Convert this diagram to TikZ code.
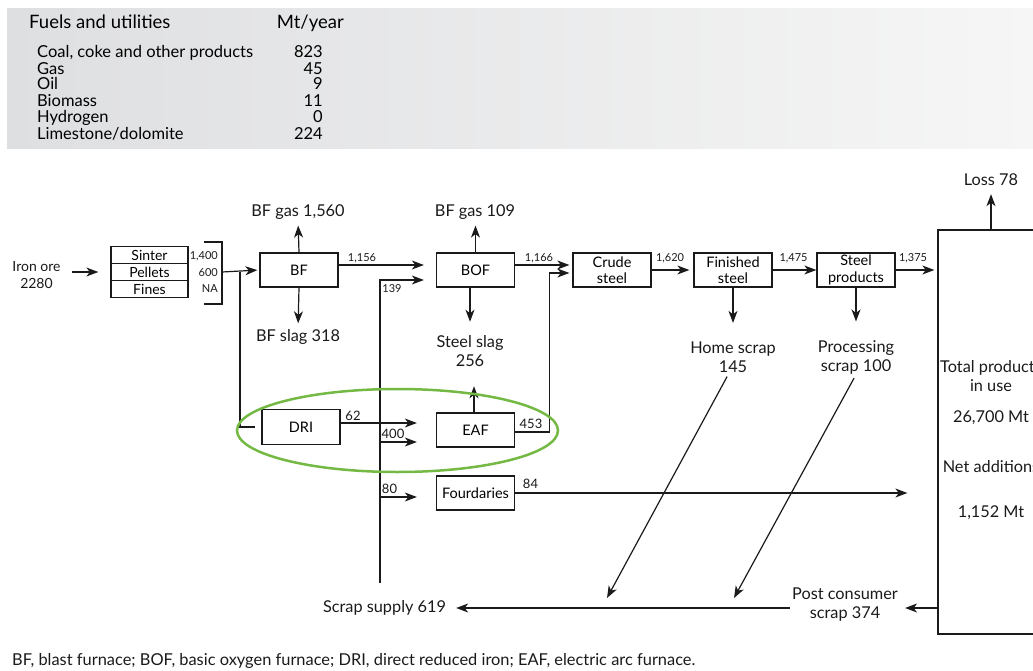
\documentclass[tikz,border=0pt]{standalone}
\usepackage{fontspec}
\setmainfont{Lato}
\usetikzlibrary{arrows.meta, positioning, calc}
\definecolor{bandl}{HTML}{DEDFE1}
\definecolor{bandr}{HTML}{F6F6F6}
\definecolor{ringgreen}{HTML}{74B943}
\definecolor{ink}{HTML}{1A1A1A}

\begin{document}
\begin{tikzpicture}[x=1pt, y=-1pt,
  >={Stealth[length=12pt, width=9pt, inset=3.5pt]},
  flow/.style={->, line width=1.2pt, draw=ink},
  wire/.style={line width=1.2pt, draw=ink},
  procbox/.style={draw=ink, line width=1.3pt, minimum width=78pt, minimum height=34pt,
    inner sep=1pt, align=center, font=\fontsize{14.5}{16.5}\selectfont},
  feedbox/.style={draw=ink, line width=1.3pt, minimum width=77pt, minimum height=17pt,
    inner sep=0pt, font=\fontsize{14}{15}\selectfont},
  lbl/.style={inner sep=0pt, align=center, text=ink, font=\fontsize{16.3}{19}\selectfont},
  qty/.style={inner sep=0pt, text=ink, font=\fontsize{11}{12}\selectfont},
  mqty/.style={inner sep=0pt, text=ink, font=\fontsize{13}{15}\selectfont},
]

% Frame
\useasboundingbox (0,0) rectangle (1033,671);
\clip (0,0) rectangle (1033,671);

% Fuels and utilities table
\shade[left color=bandl, right color=bandr] (7,9) rectangle (1033,149);
\node[anchor=base west, inner sep=0pt, font=\fontsize{18.5}{20}\selectfont] (fuelhd) at (29,28.5) {Fuels and utilities};
\node[anchor=base east, inner sep=0pt, font=\fontsize{18.5}{20}\selectfont] (unithd) at (344,28.5) {Mt/year};
\foreach \fname/\fval/\fy [count=\i] in {{Coal, coke and other products}/823/57.5, Gas/45/74.5,
    Oil/9/89.5, Biomass/11/106.5, Hydrogen/0/123, Limestone\slash dolomite/224/140} {
  \node[anchor=base west, inner sep=0pt, font=\fontsize{16.5}{17}\selectfont] (fuel\i) at (37,\fy) {\fname};
  \node[anchor=base east, inner sep=0pt, font=\fontsize{16.5}{17}\selectfont] (fval\i) at (323,\fy) {\fval};
}

% Raw materials
\node[lbl, font=\fontsize{14}{17}\selectfont] (ore) at (36.5,275) {Iron ore\\2280};
\node[feedbox] (sinter) at (149.5,255) {Sinter};
\node[feedbox] (pellets) at (149.5,272) {Pellets};
\node[feedbox] (fines) at (149.5,289) {Fines};
\node[qty, anchor=east] (qsinter) at (218,256) {1,400};
\node[qty, anchor=east] (qpellets) at (218,272.5) {600};
\node[qty, anchor=east] (qfines) at (218,289) {NA};
\draw[wire] (204,242) -| (222,304) -- (204,304);
\coordinate (brk) at (222,272);
\coordinate (split) at (240,272);

% Process units
\node[procbox] (bf) at (299,270) {BF};
\node[procbox] (bof) at (475.5,270) {BOF};
\node[procbox] (crude) at (612,270) {Crude\\steel};
\node[procbox] (fin) at (733,270) {Finished\\steel};
\node[procbox] (prod) at (856,270) {Steel\\products};
\node[procbox, minimum height=35pt] (dri) at (301,427) {DRI};
\node[procbox] (eaf) at (475.5,430) {EAF};
\node[procbox] (found) at (475.5,493) {Fourdaries};

% Stock in use
\node[draw=ink, line width=1.3pt, minimum width=110pt, minimum height=404pt] (stock) at (993,432) {};
\node[lbl] (inuse) at (991,376) {Total products\\in use};
\node[lbl] (stockmt) at (991,418) {26,700 Mt};
\node[lbl] (netadd) at (991,467) {Net additions};
\node[lbl] (addmt) at (991,513) {1,152 Mt};

% Outputs
\node[lbl] (bfgas) at (298,212) {BF gas 1,560};
\node[lbl] (bfslag) at (298,337) {BF slag 318};
\node[lbl] (bofgas) at (475,212) {BF gas 109};
\node[lbl] (steelslag) at (470,351.5) {Steel slag\\256};
\node[lbl] (loss) at (991,180) {Loss 78};
\node[lbl] (homescr) at (733,357.5) {Home scrap\\145};
\node[lbl] (procscr) at (856,357.5) {Processing\\scrap 100};
\node[lbl] (post) at (845,605) {Post consumer\\scrap 374};
\node[lbl] (scrap) at (384.5,608) {Scrap supply 619};
\coordinate (scrtop) at (380,583);
\coordinate (homeend) at (607,598);
\coordinate (procend) at (734,598);

% Flow quantities
\node[qty] (qbfbof) at (362,258) {1,156};
\node[qty] (qscrbof) at (392,289) {139};
\node[qty] (qbofcrude) at (539,258) {1,166};
\node[qty] (qcrudefin) at (670,258) {1,620};
\node[qty] (qfinprod) at (793.5,258) {1,475};
\node[qty] (qprodstock) at (913,258) {1,375};
\node[mqty] (qdri) at (353,415.5) {62};
\node[mqty] (qscreaf) at (393,433.5) {400};
\node[mqty] (qeaf) at (531,424) {453};
\node[mqty] (qscrfound) at (389.5,488.5) {80};
\node[mqty] (qfound) at (530.5,483.5) {84};

% Main line
\draw[flow, shorten <=11pt, shorten >=12pt] (ore.east |- pellets) -- (pellets.west);
\draw[flow, shorten >=2pt] (brk) -- (bf.west);
\draw[flow, shorten >=12pt] ([yshift=5pt]bf.east) -- ([yshift=5pt]bof.west);
\draw[flow, shorten >=3pt] ([yshift=5pt]bof.east) -- ([yshift=5pt]crude.west);
\draw[flow, shorten >=4pt] (crude) -- (fin);
\draw[flow] (fin) -- (prod);
\draw[flow, shorten >=3pt] (prod.east) -- (prod.east -| stock.west);

% Side streams
\draw[flow, shorten >=6pt] (bf.north) -- (bfgas.south);
\draw[flow, shorten >=6pt] (bf.south) -- (bfslag.north);
\draw[flow, shorten >=6pt] (bof.north) -- (bof.north |- bofgas.south);
\draw[flow, shorten >=14pt] ([xshift=-5.5pt]bof.south) -- ([xshift=-5.5pt]bof.south |- steelslag.north);
\draw[flow, shorten >=19pt] ([xshift=-1.5pt]eaf.north) -- ([xshift=-1.5pt]eaf.north |- steelslag.south);
\draw[flow, shorten >=19pt] (fin.south) -- (homescr.north);
\draw[flow, shorten >=19pt] (prod.south) -- (procscr.north);
\draw[flow, shorten >=8pt] (loss.south |- stock.north) -- (loss.south);

% DRI / EAF route
\draw[wire] (split) |- ([xshift=-6pt]dri.west);
\coordinate (eafin) at ([yshift=-12pt]eaf.west);
\coordinate (foundin) at ([yshift=-4pt]found.west);
\draw[flow, shorten >=19pt] ([yshift=4pt]dri.east) -- ([yshift=4pt]dri.east -| eaf.west);
\draw[flow, shorten >=19pt] (eafin -| scrtop) -- (eafin);
\draw[flow, shorten >=19pt] (foundin -| scrtop) -- (foundin);
\draw[flow, shorten >=12pt] (scrtop) |- ([yshift=-10pt]bof.west);
\coordinate (eafout) at ([yshift=-2pt]eaf.east);
\coordinate (crudein) at ([yshift=-3pt]crude.west);
\draw[flow, shorten >=3pt] (eafout) -| ([xshift=-23pt]crudein) -- (crudein);
\draw[flow, shorten >=30pt] (found.east) -- (found.east -| stock.west);

% Scrap return
\coordinate (postin) at ([yshift=-3pt]post.east);
\draw[flow, shorten >=7pt] (postin -| stock.west) -- (postin);
\draw[flow, shorten <=2pt, shorten >=10pt] (post.west |- scrap) -- (scrap.east);
\draw[flow, shorten <=4pt] ([xshift=-4pt]homescr.south) -- (homeend);
\draw[flow, shorten <=4pt] (procscr.south) -- (procend);

% DRI-EAF ring
\draw[ringgreen, line width=2.5pt] (397.5,430.5) ellipse [x radius=160.5pt, y radius=41.5pt];

% Footnote
\node[anchor=west, inner sep=0pt, text=ink, font=\fontsize{16.4}{18}\selectfont] (note) at (12,661)
  {BF, blast furnace; BOF, basic oxygen furnace; DRI, direct reduced iron; EAF, electric arc furnace.};

\end{tikzpicture}
\end{document}
